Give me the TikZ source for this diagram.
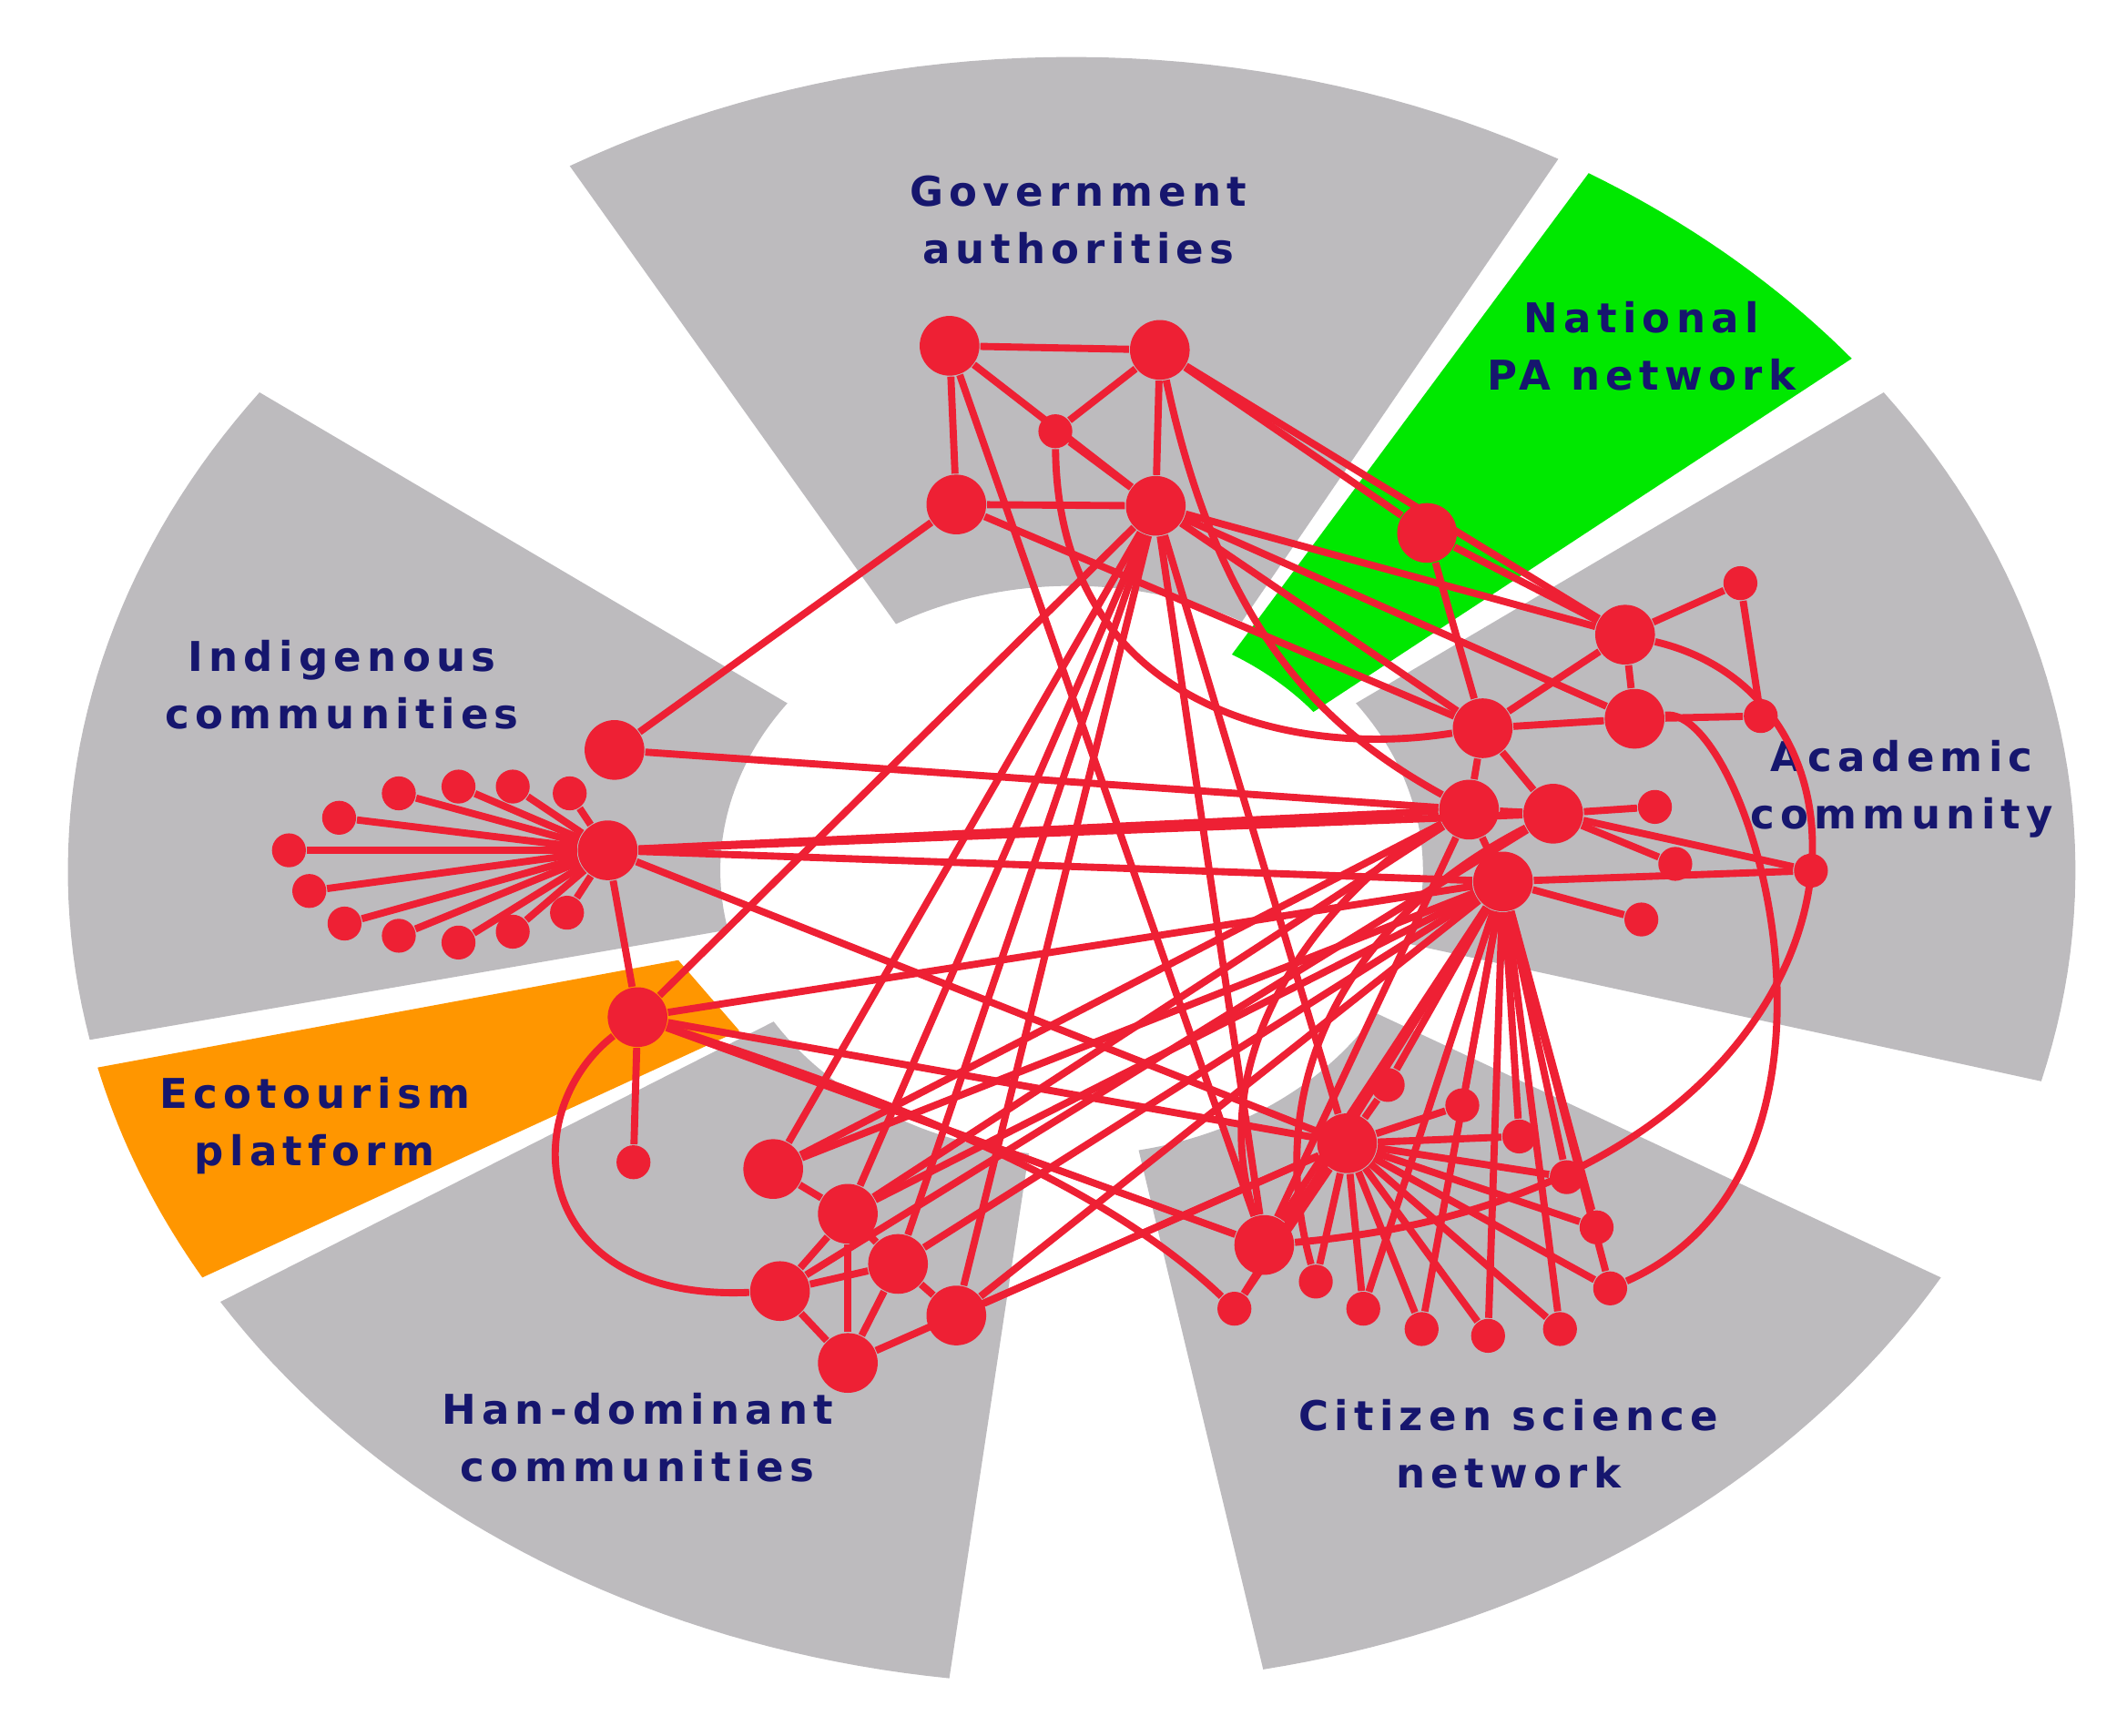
\documentclass[tikz,border=0pt]{standalone}
\usepackage{fontspec}
\newfontfamily\labfont{DejaVu Sans}[LetterSpace=14]
\definecolor{sect}{RGB}{189,187,190}
\definecolor{pagreen}{RGB}{0,232,0}
\definecolor{ecoorange}{RGB}{255,150,0}
\definecolor{nred}{RGB}{238,32,52}
\definecolor{navy}{RGB}{22,22,110}
\begin{document}
\begin{tikzpicture}[x=0.01cm,y=-0.01cm,
  lab/.style={font=\labfont\bfseries\fontsize{8.6}{12}\selectfont,text=navy,align=center},
  big/.style={circle,fill=nred,inner sep=0,minimum size=0.44cm},
  sm/.style={circle,fill=nred,inner sep=0,minimum size=0.25cm},
  e/.style={draw=nred,line width=1.5pt}]
\useasboundingbox (0,0) rectangle (1568,1280);
% sectors
\def\sector#1#2#3#4{\fill[#1] plot[domain=#2:#3,samples=40] ({790+740*cos(\x)},{642-600*sin(\x)}) -- plot[domain=#3:#2,samples=40] ({790+740*#4*cos(\x)},{642-600*#4*sin(\x)}) -- cycle;}
\sector{sect}{61}{120}{0.35}
\sector{pagreen}{39}{59}{0.31}
\sector{sect}{-15}{36}{0.35}
\sector{sect}{-79}{-30}{0.35}
\sector{sect}{-148}{-97}{0.35}
\sector{sect}{144}{192}{0.35}
\fill[ecoorange] plot[domain=-166:-150,samples=20] ({790+740*cos(\x)},{642-600*sin(\x)}) -- (545,760) -- (500,708) -- cycle;
% labels
\node[lab] at (795,162) {Government\\authorities};
\node[lab] at (1210,255) {National\\PA network};
\node[lab] at (252,505) {Indigenous\\communities};
\node[lab] at (1402,582) {Academic\\community};
\node[lab] at (232,830) {Ecotourism\\platform};
\node[lab] at (470,1060) {Han-dominant\\communities};
\node[lab] at (1112,1065) {Citizen science\\network};
% nodes
\node[big] (G1) at (700,255) {}; \node[big] (G2) at (855,258) {};
\node[sm] (G3) at (778,318) {}; \node[big] (G4) at (705,372) {};
\node[big] (G5) at (852,373) {}; \node[big] (P1) at (1052,393) {};
\node[big] (I1) at (453,553) {}; \node[big] (I2) at (448,627) {};
\foreach \n/\p in {1/{213,627},2/{228,657},3/{250,603},4/{254,681},5/{294,585},6/{294,690},7/{338,580},8/{338,695},9/{378,580},10/{378,687},11/{420,585},12/{418,673}}
  \node[sm] (L\n) at (\p) {};
\node[big] (E1) at (470,750) {}; \node[sm] (E2) at (467,857) {};
\node[big] (A1) at (1198,468) {}; \node[sm] (A2) at (1283,430) {};
\node[big] (A3) at (1093,537) {}; \node[big] (A4) at (1205,530) {};
\node[sm] (A5) at (1298,528) {}; \node[big] (A6) at (1083,597) {};
\node[big] (A7) at (1145,600) {}; \node[sm] (A8) at (1220,595) {};
\node[big] (A9) at (1108,650) {}; \node[sm] (A10) at (1235,637) {};
\node[sm] (A11) at (1335,642) {}; \node[sm] (A12) at (1210,678) {};
\node[big] (H1) at (570,862) {}; \node[big] (H2) at (625,895) {};
\node[big] (H3) at (662,932) {}; \node[big] (H4) at (575,952) {};
\node[big] (H5) at (705,970) {}; \node[big] (H6) at (625,1005) {};
\node[big] (C1) at (993,843) {}; \node[big] (C2) at (932,918) {};
\foreach \n/\p in {3/{910,965},4/{970,945},5/{1005,965},6/{1048,980},7/{1097,985},8/{1150,980},9/{1187,950},10/{1177,905},11/{1155,868},12/{1120,838},13/{1078,815},14/{1023,800}}
  \node[sm] (C\n) at (\p) {};
% edges
\begin{scope}[on background layer/.style={}]
\foreach \a/\b in {G1/G2,G1/G4,G1/G5,G2/G3,G2/G5,G2/P1,G3/G5,G4/G5,G4/I1,G1/C2,
  G5/H1,G5/H2,G5/H3,G5/H5,G5/C2,G5/A1,G5/A3,G5/A4,G5/C1,G5/E1,G2/A1,G4/A3,
  P1/A1,P1/A3,I1/A6,I2/A6,I2/A7,I2/A9,I2/E1,I2/C1,
  E1/A9,E1/C1,E1/C2,E1/E2,H1/A6,H1/A9,H2/A6,H3/A9,H5/A9,H5/C1,H4/A7,H6/C1,
  H1/H2,H2/H3,H2/H4,H2/H6,H3/H4,H3/H5,H3/H6,H4/H6,
  A1/A2,A1/A4,A1/A3,A2/A5,A4/A5,A3/A4,A3/A6,A3/A7,A6/A7,A7/A8,A7/A10,A7/A11,A6/A9,A9/A11,A9/A12,A6/C2,A9/H2}
  \draw[e] (\a) -- (\b);
\foreach \n in {1,...,12} \draw[e] (I2) -- (L\n);
\foreach \n in {2,...,14} \draw[e] (C1) -- (C\n);
\foreach \n in {2,3,5,6,7,8,9,10,11,12,13,14} \draw[e] (A9) -- (C\n);
\draw[e] (E1) .. controls (380,820) and (390,960) .. (H4);
\draw[e] (G3) .. controls (780,520) and (950,560) .. (A3);
\draw[e] (G2) .. controls (900,470) and (980,540) .. (A6);
\draw[e] (A4) .. controls (1290,520) and (1390,860) .. (C9);
\draw[e] (A1) .. controls (1420,520) and (1380,880) .. (C2);
\draw[e] (C2) .. controls (880,760) and (1000,640) .. (A6);
\draw[e] (C4) .. controls (930,800) and (990,680) .. (A7);
\draw[e] (E1) .. controls (620,800) and (800,860) .. (C3);
\end{scope}
% redraw nodes on top
\foreach \n in {G1,G2,G3,G4,G5,P1,I1,I2,E1,E2,A1,A2,A3,A4,A5,A6,A7,A8,A9,A10,A11,A12,H1,H2,H3,H4,H5,H6,C1,C2}
  \fill[nred] (\n) circle (0pt);
\end{tikzpicture}
\end{document}
